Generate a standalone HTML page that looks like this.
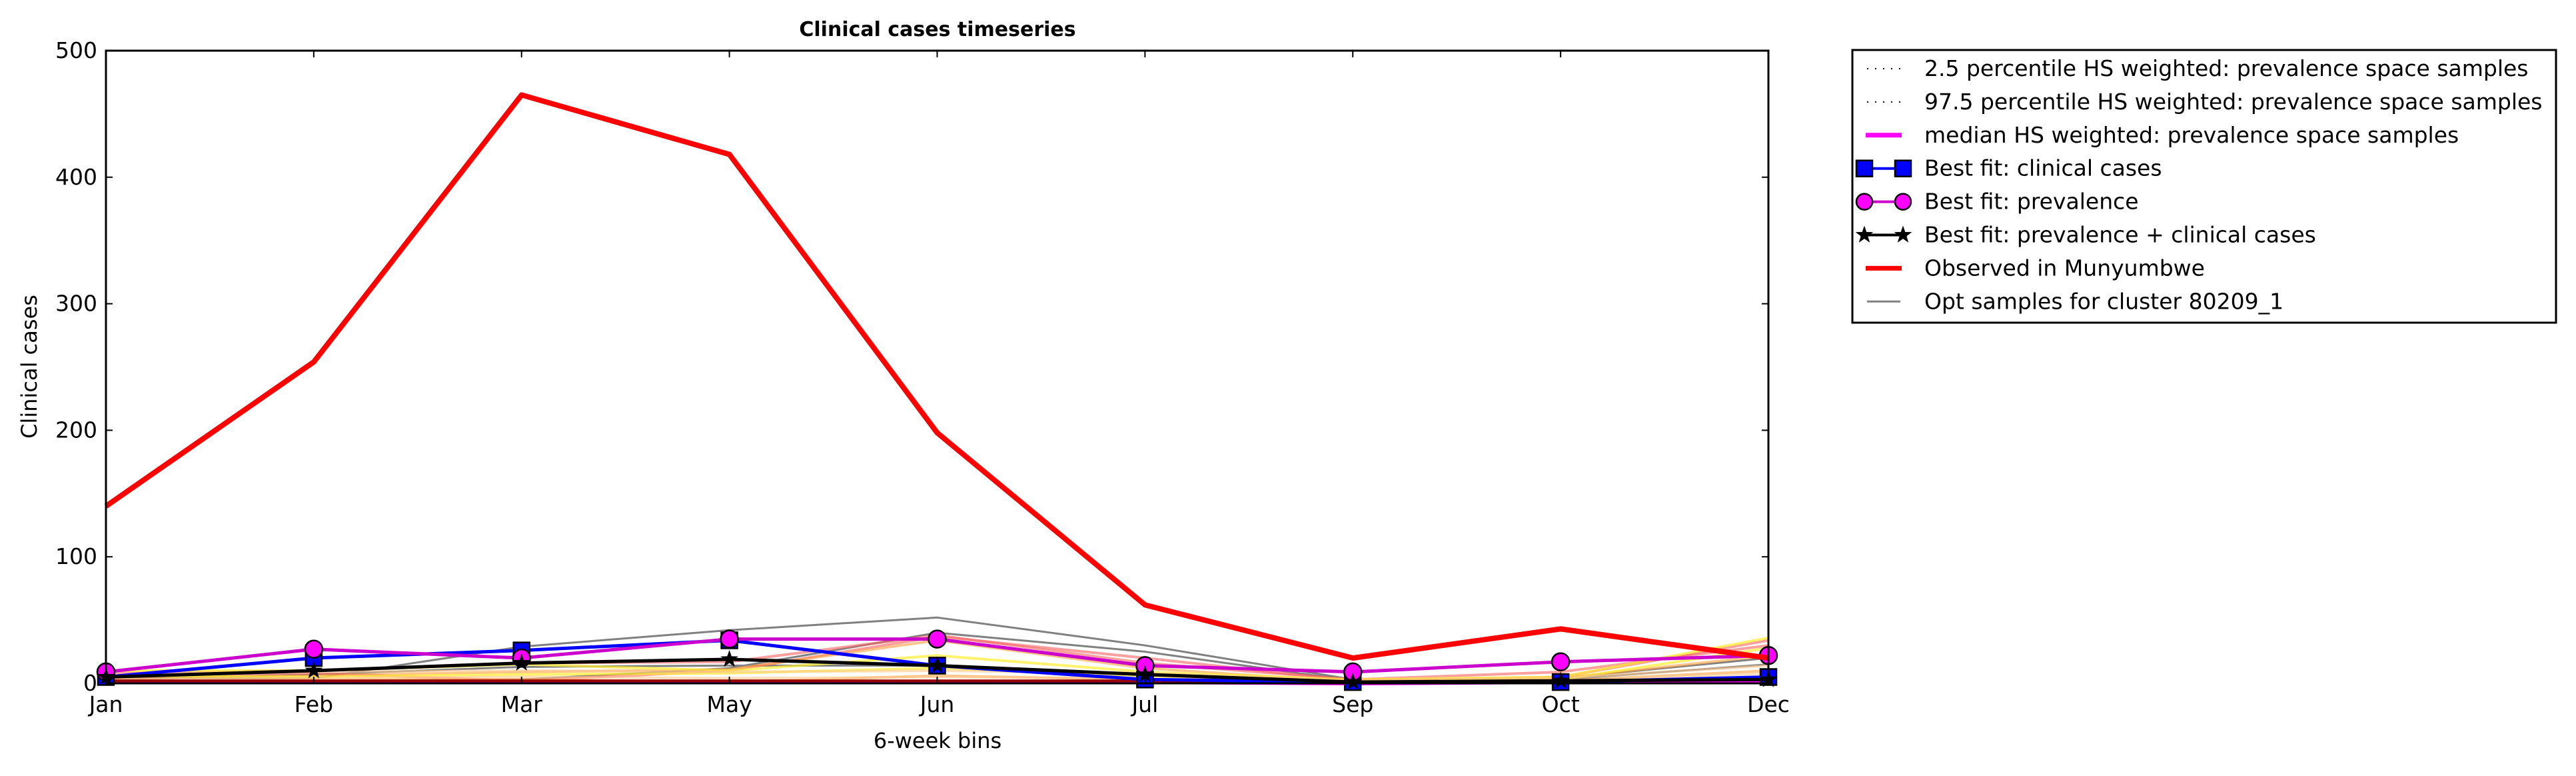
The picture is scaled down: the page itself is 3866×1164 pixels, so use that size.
<!DOCTYPE html>
<html><head><meta charset="utf-8"><style>
html,body{margin:0;padding:0;background:#fff;}
svg text{font-family:"DejaVu Sans","Liberation Sans",sans-serif;}
</style></head><body>
<svg id="chart" width="3866" height="1159" viewBox="0 0 3866 1159" xmlns="http://www.w3.org/2000/svg">
<rect width="3866" height="1159" fill="#fff"/>
<g id="marks"></g>
<g id="axes"></g>
<g id="legend"></g>
</svg>
<script>
const categories = ["Jan","Feb","Mar","May","Jun","Jul","Sep","Oct","Dec"];
const yTicks = [0,100,200,300,400,500];
const observed = [140,254,465,418,198,62,20,43,20];
const bestClinical = [5,20,26,34,14,3,1,1,5];
const bestPrevalence = [9,27,20,35,35,14,9,17,22];
const bestBoth = [5,10,16,19,14,7,1,2,3];
const greyA = [5,4,29,42,52,30,3,3,15];
const greyB = [3,7,13,14,14,7,2,4,20];
const greyC = [2,2,3,12,40,25,2,1,5];
const salmonA = [8,10,16,17,38,16,3,9,30];
const salmonB = [6,8,2,10,37,20,2,5,34];
const orangeA = [4,6,9,11,34,12,1,4,22];
const orangeB = [2,3,3,1,6,3,1,2,10];
const yellowA = [10,10,15,10,22,9,3,5,36];
const yellowB = [6,5,7,8,12,6,1,3,28];
const peachA = [7,9,10,9,10,8,2,4,14];
const peachB = [3,4,5,4,5,4,1,2,8];
const darkred = [1,1,1,1,1,1,0,1,2];

const NS="http://www.w3.org/2000/svg";
const X0=159,X1=2654,Y0=1025,Y1=76;
const xs=i=>X0+(X1-X0)*i/(categories.length-1);
const ys=v=>Y0-(Y0-Y1)*v/500;
function mk(tag,attrs,parent){const e=document.createElementNS(NS,tag);for(const k in attrs)e.setAttribute(k,attrs[k]);parent.appendChild(e);return e;}
const marks=document.getElementById('marks'), axes=document.getElementById('axes'), legend=document.getElementById('legend');
function line(vals,color,w,op,name){
  const p=mk('polyline',{points:vals.map((v,i)=>xs(i)+','+ys(v)).join(' '),fill:'none',stroke:color,'stroke-width':w,'stroke-opacity':op,'stroke-linejoin':'round'},marks);
  
  
  return p;
}
line(greyA,'#808080',3,1,'opt-sample-line-1');
line(greyB,'#808080',3,1,'opt-sample-line-2');
line(greyC,'#808080',3,1,'opt-sample-line-3');
line(salmonA,'#ff6060',4,0.6,'sample-line-salmon-1');
line(salmonB,'#ff6060',4,0.6,'sample-line-salmon-2');
line(orangeA,'#ffa040',4,0.6,'sample-line-orange-1');
line(orangeB,'#ffa040',4,0.6,'sample-line-orange-2');
line(yellowA,'#ffee30',4,0.7,'sample-line-yellow-1');
line(yellowB,'#ffee30',4,0.7,'sample-line-yellow-2');
line(peachA,'#ffc890',4,0.6,'sample-line-peach-1');
line(peachB,'#ffc890',4,0.6,'sample-line-peach-2');
line(darkred,'#ff00ff',6,1,'median-line');
line(darkred.map(v=>v+1),'#990000',4,1,'percentile-line');
line(bestClinical,'#0000ff',5,1,'best-fit-clinical-line');
bestClinical.forEach((v,i)=>{const r=mk('rect',{x:xs(i)-12,y:ys(v)-12,width:24,height:24,fill:'#0000ff',stroke:'#000','stroke-width':2.5},marks);
  
  });
line(bestPrevalence,'#cc00cc',5,1,'best-fit-prevalence-line');
bestPrevalence.forEach((v,i)=>{const c=mk('circle',{cx:xs(i),cy:ys(v),r:13,fill:'#ff00ff',stroke:'#000','stroke-width':2.5},marks);
  
  });
line(bestBoth,'#000000',5,1,'best-fit-both-line');
function star(cx,cy,R){let pts=[];for(let k=0;k<10;k++){const a=-Math.PI/2+k*Math.PI/5;const rr=k%2?R*0.4:R;pts.push((cx+rr*Math.cos(a))+','+(cy+rr*Math.sin(a)));}return pts.join(' ');}
bestBoth.forEach((v,i)=>{const s=mk('polygon',{points:star(xs(i),ys(v),14),fill:'#000'},marks);
  
  });
line(observed,'#ff0000',8,1,'observed-line');

const fr=mk('rect',{x:X0,y:Y1,width:X1-X0,height:Y0-Y1,fill:'none',stroke:'#000','stroke-width':3},axes);


categories.forEach((c,i)=>{
  mk('line',{x1:xs(i),x2:xs(i),y1:Y0,y2:Y0-10,stroke:'#000','stroke-width':2},axes);
  mk('line',{x1:xs(i),x2:xs(i),y1:Y1,y2:Y1+10,stroke:'#000','stroke-width':2},axes);
  const t=mk('text',{x:xs(i),y:1068,'font-size':33,'text-anchor':'middle'},axes);t.textContent=c;
  
  
});
yTicks.forEach(v=>{
  mk('line',{x1:X0,x2:X0+10,y1:ys(v),y2:ys(v),stroke:'#000','stroke-width':2},axes);
  mk('line',{x1:X1,x2:X1-10,y1:ys(v),y2:ys(v),stroke:'#000','stroke-width':2},axes);
  const t=mk('text',{x:146,y:ys(v)+11,'font-size':33,'text-anchor':'end'},axes);t.textContent=v;
  
  
});
let t=mk('text',{x:1407,y:1122,'font-size':32,'text-anchor':'middle'},axes);t.textContent='6-week bins';


t=mk('text',{x:0,y:0,'font-size':32,'text-anchor':'middle',transform:'translate(55,550) rotate(-90)'},axes);t.textContent='Clinical cases';


t=mk('text',{x:1407,y:54,'font-size':30,'font-weight':'bold','text-anchor':'middle'},axes);t.textContent='Clinical cases timeseries';



const lb=mk('rect',{x:2780,y:75,width:1056,height:409,fill:'#fff',stroke:'#000','stroke-width':3},legend);


const legendLabels=["2.5 percentile HS weighted: prevalence space samples","97.5 percentile HS weighted: prevalence space samples","median HS weighted: prevalence space samples","Best fit: clinical cases","Best fit: prevalence","Best fit: prevalence + clinical cases","Observed in Munyumbwe","Opt samples for cluster 80209_1"];
legendLabels.forEach((lab,k)=>{
  const cy=103+k*49.9, x1=2792, x2=2862;
  const g=mk('g',{},legend);
  
  
  if(k<2) mk('line',{x1:x1+10,x2:x2-10,y1:cy,y2:cy,stroke:'#000','stroke-width':2,'stroke-dasharray':'2,10'},g);
  else if(k==2) mk('line',{x1:x1+8,x2:x2-8,y1:cy,y2:cy,stroke:'#ff00ff','stroke-width':7},g);
  else if(k==3){mk('line',{x1:x1,x2:x2,y1:cy,y2:cy,stroke:'#0000ff','stroke-width':4},g);[x1+6,x2-6].forEach(x=>mk('rect',{x:x-12,y:cy-12,width:24,height:24,fill:'#0000ff',stroke:'#000','stroke-width':2.5},g));}
  else if(k==4){mk('line',{x1:x1,x2:x2,y1:cy,y2:cy,stroke:'#cc00cc','stroke-width':4},g);[x1+6,x2-6].forEach(x=>mk('circle',{cx:x,cy:cy,r:12,fill:'#ff00ff',stroke:'#000','stroke-width':2.5},g));}
  else if(k==5){mk('line',{x1:x1,x2:x2,y1:cy,y2:cy,stroke:'#000','stroke-width':4},g);[x1+6,x2-6].forEach(x=>mk('polygon',{points:star(x,cy,14),fill:'#000'},g));}
  else if(k==6) mk('line',{x1:x1+8,x2:x2-8,y1:cy,y2:cy,stroke:'#ff0000','stroke-width':7},g);
  else mk('line',{x1:x1+10,x2:x2-10,y1:cy,y2:cy,stroke:'#808080','stroke-width':3},g);
  const tx=mk('text',{x:2888,y:cy+11,'font-size':33},g);tx.textContent=lab;
  
  
});
</script>
</body></html>
